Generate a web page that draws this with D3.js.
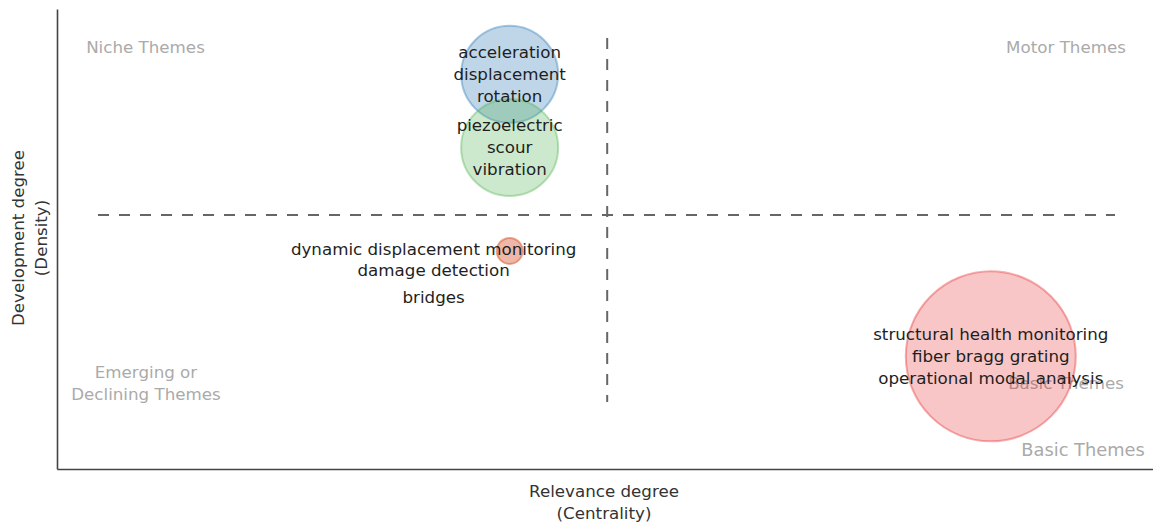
<!DOCTYPE html>
<html>
<head>
<meta charset="utf-8">
<script src="https://cdn.jsdelivr.net/npm/d3@7"></script>
<style>
  html, body { margin: 0; padding: 0; background: #fff; }
  svg { display: block; font-family: "DejaVu Sans", Verdana, sans-serif; }
</style>
</head>
<body>
<svg id="chart" width="1153" height="525"></svg>
<script>
// ---- data ----
const clusterLabels = [
  ["acceleration", "displacement", "rotation"],
  ["piezoelectric", "scour", "vibration"],
  ["dynamic displacement monitoring", "damage detection", "bridges"],
  ["structural health monitoring", "fiber bragg grating", "operational modal analysis"]
];
const centrality = [41.3, 41.3, 41.3, 85.2];
const density = [85.8, 69.9, 47.4, 24.5];
const frequency = [14, 14, 1, 43];
const clusterColors = ["#377eb8", "#4daf4a", "#d9603b", "#e41a1c"];
const centralityRef = 50.2;
const densityRef = 55.2;
const quadrantNames = ["Niche Themes", "Motor Themes", "Emerging or\nDeclining Themes", "Basic Themes"];

// ---- layout ----
const W = 1153, H = 525;
const svg = d3.select("#chart");
const x = d3.scaleLinear().domain([0, 100]).range([57, 1153]);
const y = d3.scaleLinear().domain([0, 100]).range([469, 9]);
const r = d3.scaleSqrt().domain([0, d3.max(frequency)]).range([0, 85]);
const fontSize = 16.7;

// axes (no ticks)
svg.append("g").attr("transform", `translate(0,${y(0)})`)
  .call(d3.axisBottom(x).tickValues([]).tickSizeOuter(0))
  .select(".domain").attr("stroke", "#444").attr("stroke-width", 1.6);
svg.append("g").attr("transform", `translate(${x(0)},0)`)
  .call(d3.axisLeft(y).tickValues([]).tickSizeOuter(0))
  .select(".domain").attr("stroke", "#444").attr("stroke-width", 1.6);

// axis titles
const xt = svg.append("text").attr("text-anchor", "middle").attr("fill", "#333")
  .attr("font-size", fontSize);
xt.append("tspan").attr("x", 604).attr("y", 497).text("Relevance degree");
xt.append("tspan").attr("x", 604).attr("y", 519).text("(Centrality)");
const yt = svg.append("text").attr("text-anchor", "middle").attr("fill", "#333")
  .attr("font-size", fontSize).attr("transform", "translate(0,238) rotate(-90)");
yt.append("tspan").attr("x", 0).attr("y", 24).text("Development degree");
yt.append("tspan").attr("x", 0).attr("y", 47).text("(Density)");

// quadrant labels
function multi(text, cx, cy, size, color) {
  const lines = text.split("\n");
  const t = svg.append("text").attr("text-anchor", "middle").attr("fill", color)
    .attr("font-size", size).attr("dominant-baseline", "central");
  lines.forEach((l, i) => t.append("tspan").attr("x", cx).attr("y", cy + i * 22).text(l));
}
multi(quadrantNames[0], 145.5, 47, fontSize, "#aaaaaa");
multi(quadrantNames[1], 1066, 47, fontSize, "#aaaaaa");
multi(quadrantNames[2], 146, 372, fontSize, "#aaaaaa");
multi(quadrantNames[3], 1066, 383, fontSize, "#aaaaaa");
multi(quadrantNames[3], 1083, 449, 17.8, "#aaaaaa");

// reference lines
svg.append("line")
  .attr("x1", 98).attr("x2", 1115)
  .attr("y1", y(densityRef)).attr("y2", y(densityRef))
  .attr("stroke", "#666").attr("stroke-width", 2).attr("stroke-dasharray", "11,10");
svg.append("line")
  .attr("x1", x(centralityRef)).attr("x2", x(centralityRef))
  .attr("y1", 38).attr("y2", 402)
  .attr("stroke", "#666").attr("stroke-width", 2).attr("stroke-dasharray", "11,10");

// bubbles
const data = clusterLabels.map((lab, i) => ({
  lab, cx: centrality[i], cy: density[i], f: frequency[i], c: clusterColors[i]
}));
const fillOp = [0.32, 0.28, 0.45, 0.25];
svg.append("g").selectAll("circle").data(data).join("circle")
  .attr("cx", d => x(d.cx)).attr("cy", d => y(d.cy)).attr("r", d => r(d.f))
  .attr("fill", d => d.c).attr("fill-opacity", (d, i) => fillOp[i])
  .attr("stroke", d => d.c).attr("stroke-opacity", (d, i) => fillOp[i] + 0.1)
  .attr("stroke-width", 2);

// bubble labels
data.forEach((d, i) => {
  const small = r(d.f) < 20;
  const cx = x(d.cx) + (small ? -76 : 0);
  const offs = small ? [-2, 19, 46] : [-22, 0, 22];
  const t = svg.append("text").attr("text-anchor", "middle").attr("fill", "#1e1e1e")
    .attr("font-size", fontSize).attr("dominant-baseline", "central");
  d.lab.forEach((l, k) => t.append("tspan").attr("x", cx).attr("y", y(d.cy) + offs[k]).text(l));
});
</script>
</body>
</html>
